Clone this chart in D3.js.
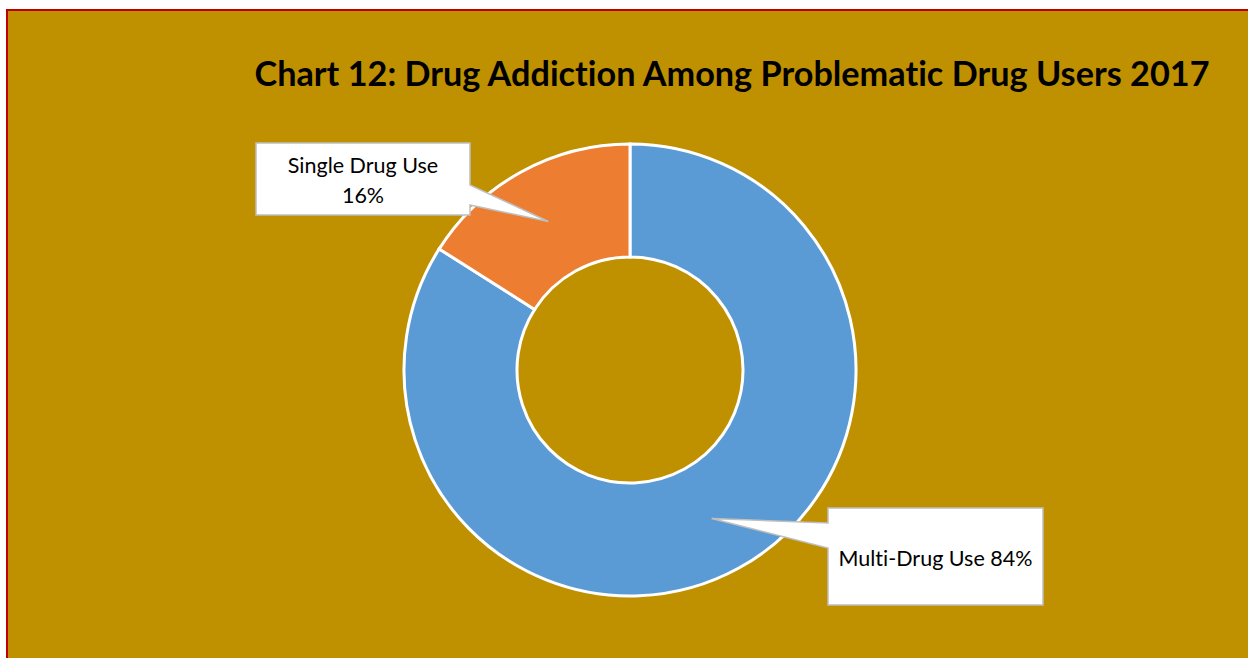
<!DOCTYPE html>
<html>
<head>
<meta charset="utf-8">
<script src="https://cdn.jsdelivr.net/npm/d3@7"></script>
<style>
  html, body { margin: 0; padding: 0; background: #ffffff; }
  svg { display: block; }
  text { font-variant-ligatures: none; font-feature-settings: "liga" 0, "dlig" 0; }
</style>
</head>
<body>
<svg id="chart" width="1248" height="658"></svg>
<script>
// ---- data ----
const categories = ["Multi-Drug Use", "Single Drug Use"];
const values = [84, 16];
const colors = ["#5B9BD5", "#ED7D31"];
const labelLines = [["Multi-Drug Use 84%"], ["Single Drug Use", "16%"]];
const titleText = "Chart 12: Drug Addiction Among Problematic Drug Users 2017";

// ---- layout ----
const W = 1248, H = 658;
const svg = d3.select("#chart");

// background panel with red border on left/top
svg.append("rect").attr("x", 7).attr("y", 10).attr("width", W - 7).attr("height", H - 10)
  .attr("fill", "#BF9000");
svg.append("path").attr("d", `M7,${H} L7,10 L${W},10`)
  .attr("fill", "none").attr("stroke", "#C00000").attr("stroke-width", 2);

// title
const title = svg.append("text")
  .attr("x", 732).attr("y", 86)
  .attr("text-anchor", "middle")
  .attr("font-family", "Lato, 'Open Sans', sans-serif")
  .attr("font-weight", "bold")
  .attr("font-size", 34)
  .attr("fill", "#000")
  .text(titleText);
title.attr("textLength", 955).attr("lengthAdjust", "spacingAndGlyphs");

// donut
const cx = 630, cy = 370, outerR = 226, innerR = 113;
const pie = d3.pie().sort(null).value(d => d)(values);
const arc = d3.arc().innerRadius(innerR).outerRadius(outerR);
const g = svg.append("g").attr("transform", `translate(${cx},${cy})`);
g.selectAll("path.slice").data(pie).join("path")
  .attr("class", "slice")
  .attr("d", arc)
  .attr("fill", (d, i) => colors[i])
  .attr("stroke", "#ffffff")
  .attr("stroke-width", 3);

// callouts: box geometry (layout) + wedge toward arc centroid
const boxes = [
  { x: 828, y: 508, w: 215, h: 97, side: "left", b0: 523, b1: 548, textY: [566] },
  { x: 256, y: 143, w: 214, h: 72, side: "right", b0: 185, b1: 205, textY: [173, 203] }
];

pie.forEach((d, i) => {
  const c = arc.centroid(d);
  const tip = [cx + c[0], cy + c[1]];
  const b = boxes[i];
  let p;
  if (b.side === "left") {
    p = `M${b.x},${b.y} L${b.x + b.w},${b.y} L${b.x + b.w},${b.y + b.h} L${b.x},${b.y + b.h} L${b.x},${b.b1} L${tip[0]},${tip[1]} L${b.x},${b.b0} Z`;
  } else {
    const r = b.x + b.w;
    p = `M${b.x},${b.y} L${r},${b.y} L${r},${b.b0} L${tip[0]},${tip[1]} L${r},${b.b1} L${r},${b.y + b.h} L${b.x},${b.y + b.h} Z`;
  }
  svg.append("path").attr("d", p)
    .attr("fill", "#ffffff").attr("stroke", "#BFBFBF").attr("stroke-width", 1.5)
    .attr("stroke-linejoin", "miter");
  labelLines[i].forEach((line, j) => {
    svg.append("text")
      .attr("x", b.x + b.w / 2).attr("y", b.textY[j])
      .attr("text-anchor", "middle")
      .attr("font-family", "Lato, 'Open Sans', sans-serif")
      .attr("font-size", 21.5)
      .attr("fill", "#000")
      .text(line);
  });
});
</script>
</body>
</html>
